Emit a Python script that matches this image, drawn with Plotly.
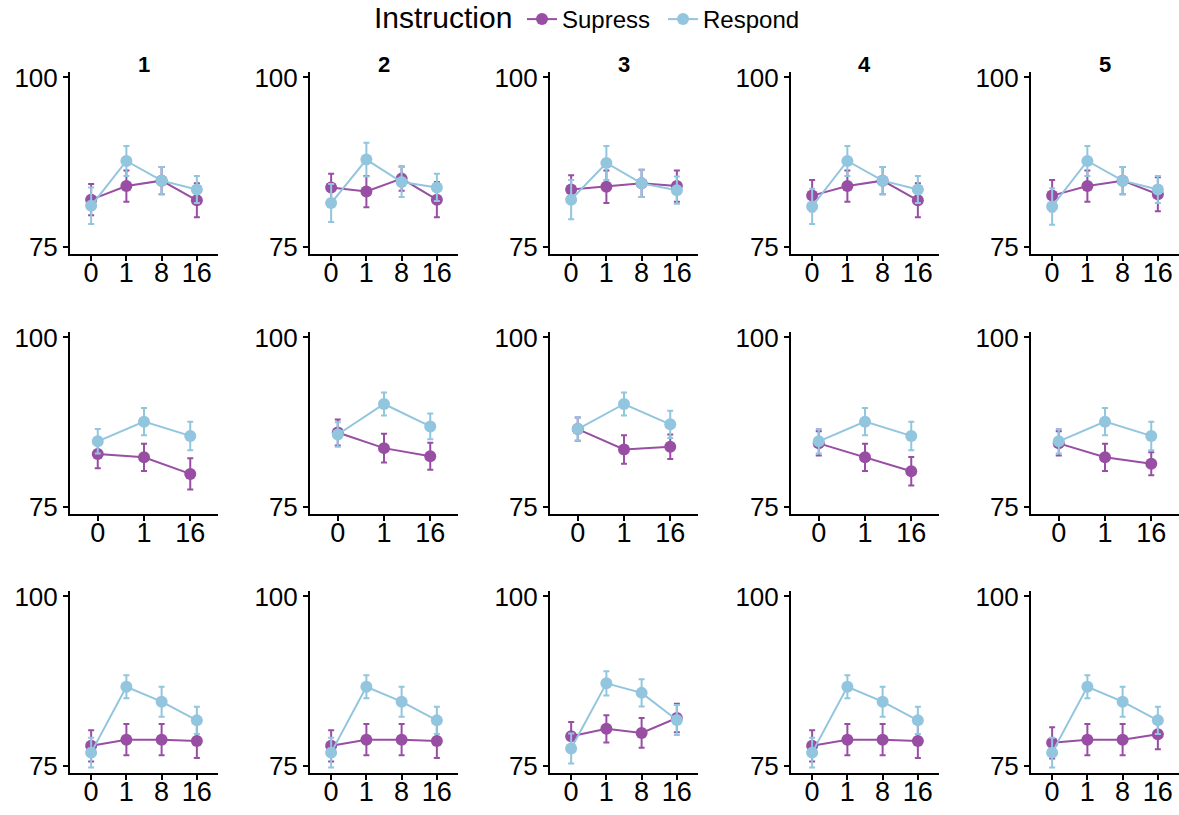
import plotly.graph_objects as go

# ---------------- data ----------------
panel_titles = ["1", "2", "3", "4", "5"]
cats_full = ["0", "1", "8", "16"]
cats_short = ["0", "1", "16"]

# row 1 (0,1,8,16)
r1_sup = [[82.0, 84.0, 84.8, 81.9], [83.8, 83.2, 85.1, 82.0], [83.5, 83.9, 84.4, 84.0],
          [82.6, 84.0, 84.8, 81.9], [82.6, 84.0, 84.8, 82.8]]
r1_sup_se = [[2.3, 2.3, 2.0, 2.5], [2.0, 2.3, 1.8, 2.6], [2.1, 2.4, 2.0, 2.3],
             [2.3, 2.3, 2.0, 2.5], [2.3, 2.3, 2.0, 2.5]]
r1_res = [[81.1, 87.7, 84.8, 83.5], [81.5, 87.9, 84.6, 83.8], [82.0, 87.4, 84.4, 83.4],
          [81.0, 87.7, 84.8, 83.5], [81.0, 87.7, 84.8, 83.5]]
r1_res_se = [[2.7, 2.2, 2.0, 2.0], [2.8, 2.5, 2.2, 2.0], [2.9, 2.5, 2.0, 2.0],
             [2.6, 2.2, 2.0, 2.0], [2.7, 2.2, 2.0, 2.0]]

# row 2 (0,1,16)
r2_sup = [[82.85, 82.35, 79.9], [86.0, 83.7, 82.5], [86.5, 83.5, 83.9],
          [84.4, 82.35, 80.3], [84.4, 82.35, 81.4]]
r2_sup_se = [[2.1, 2.0, 2.3], [1.9, 2.1, 2.0], [1.7, 2.1, 1.8],
             [1.8, 2.0, 2.1], [1.8, 2.0, 1.7]]
r2_res = [[84.7, 87.6, 85.5], [85.7, 90.2, 86.9], [86.5, 90.2, 87.2],
          [84.7, 87.6, 85.5], [84.7, 87.6, 85.5]]
r2_res_se = [[1.8, 2.0, 2.1], [1.8, 1.7, 1.9], [1.7, 1.7, 2.0],
             [1.8, 2.0, 2.1], [1.8, 2.0, 2.1]]

# row 3 (0,1,8,16)
r3_sup = [[78.0, 78.9, 78.9, 78.7], [78.0, 78.9, 78.9, 78.7], [79.4, 80.5, 79.9, 82.1],
          [78.0, 78.9, 78.9, 78.7], [78.45, 78.9, 78.9, 79.7]]
r3_sup_se = [[2.3, 2.3, 2.3, 2.5], [2.3, 2.3, 2.3, 2.5], [2.1, 2.0, 2.2, 2.1],
             [2.3, 2.3, 2.3, 2.5], [2.3, 2.3, 2.3, 2.2]]
r3_res = [[77.0, 86.7, 84.5, 81.75], [77.0, 86.7, 84.5, 81.75], [77.6, 87.2, 85.8, 81.8],
          [77.0, 86.7, 84.5, 81.75], [77.0, 86.7, 84.5, 81.75]]
r3_res_se = [[2.2, 1.7, 2.2, 2.0], [2.2, 1.7, 2.2, 2.0], [2.2, 1.8, 2.0, 2.2],
             [2.2, 1.7, 2.2, 2.0], [2.2, 1.7, 2.2, 2.0]]

y_ticks = [75, 100]
series_names = ["Supress", "Respond"]
series_colors = ["#984EA3", "#92C5DE"]
legend_title = "Instruction"

# ---------------- layout geometry ----------------
W, H = 1179, 815
col_left = [70, 310, 550, 791, 1031]
panel_w = 148
row_top = [72, 332, 591]
panel_h = 182

rows = [
    (cats_full, r1_sup, r1_sup_se, r1_res, r1_res_se),
    (cats_short, r2_sup, r2_sup_se, r2_res, r2_res_se),
    (cats_full, r3_sup, r3_sup_se, r3_res, r3_res_se),
]

fig = go.Figure()
layout = dict(
    width=W, height=H,
    margin=dict(l=0, r=0, t=0, b=0, autoexpand=False),
    paper_bgcolor="white", plot_bgcolor="white",
    font=dict(family="Liberation Sans, Arial", color="black"),
    showlegend=True,
    legend=dict(orientation="h", x=522 / W, xanchor="left", y=1 + 3 / H, yanchor="top",
                font=dict(size=24), itemwidth=30, entrywidth=96, entrywidthmode="pixels",
                bgcolor="rgba(0,0,0,0)"),
)
annotations = [dict(text=legend_title, xref="paper", yref="paper",
                    x=514 / W, y=1 - 18 / H, xanchor="right", yanchor="middle",
                    showarrow=False, font=dict(size=30, color="black"))]

idx = 0
for r, (cats, sup, sup_se, res, res_se) in enumerate(rows):
    for c in range(5):
        idx += 1
        xa = "xaxis" if idx == 1 else f"xaxis{idx}"
        ya = "yaxis" if idx == 1 else f"yaxis{idx}"
        xref = "x" if idx == 1 else f"x{idx}"
        yref = "y" if idx == 1 else f"y{idx}"
        x0 = col_left[c] / W
        x1 = (col_left[c] + panel_w) / W
        y1 = 1 - row_top[r] / H
        y0 = 1 - (row_top[r] + panel_h) / H
        n = len(cats)
        layout[xa] = dict(domain=[x0, x1], anchor=yref, type="category",
                          categoryorder="array", categoryarray=cats,
                          range=[-0.6, n - 1 + 0.6], showgrid=False, zeroline=False,
                          showline=True, linecolor="black", linewidth=2,
                          ticks="outside", ticklen=5, tickwidth=2, tickcolor="black",
                          ticklabelstandoff=-11,
                          tickfont=dict(size=27, color="black"), fixedrange=True)
        layout[ya] = dict(domain=[y0, y1], anchor=xref, range=[74.0, 100.8],
                          tickvals=y_ticks, showgrid=False, zeroline=False,
                          showline=True, linecolor="black", linewidth=2,
                          ticks="outside", ticklen=5, tickwidth=2, tickcolor="black",
                          tickfont=dict(size=26, color="black"), fixedrange=True)
        for s, (vals, se) in enumerate([(sup[c], sup_se[c]), (res[c], res_se[c])]):
            fig.add_trace(go.Scatter(
                x=cats, y=vals, xaxis=xref, yaxis=yref,
                mode="lines+markers", name=series_names[s],
                legendgroup=series_names[s], showlegend=(idx == 1),
                line=dict(color=series_colors[s], width=2),
                marker=dict(color=series_colors[s], size=12),
                error_y=dict(type="data", array=se, visible=True,
                             color=series_colors[s], thickness=2, width=3),
            ))
        if r == 0:
            annotations.append(dict(
                text=f"<b>{panel_titles[c]}</b>", xref="paper", yref="paper",
                x=(col_left[c] + panel_w / 2) / W, y=1 - 65 / H,
                xanchor="center", yanchor="middle", showarrow=False,
                font=dict(size=22, color="black")))

layout["annotations"] = annotations
fig.update_layout(**layout)
fig.write_html("out.html")
